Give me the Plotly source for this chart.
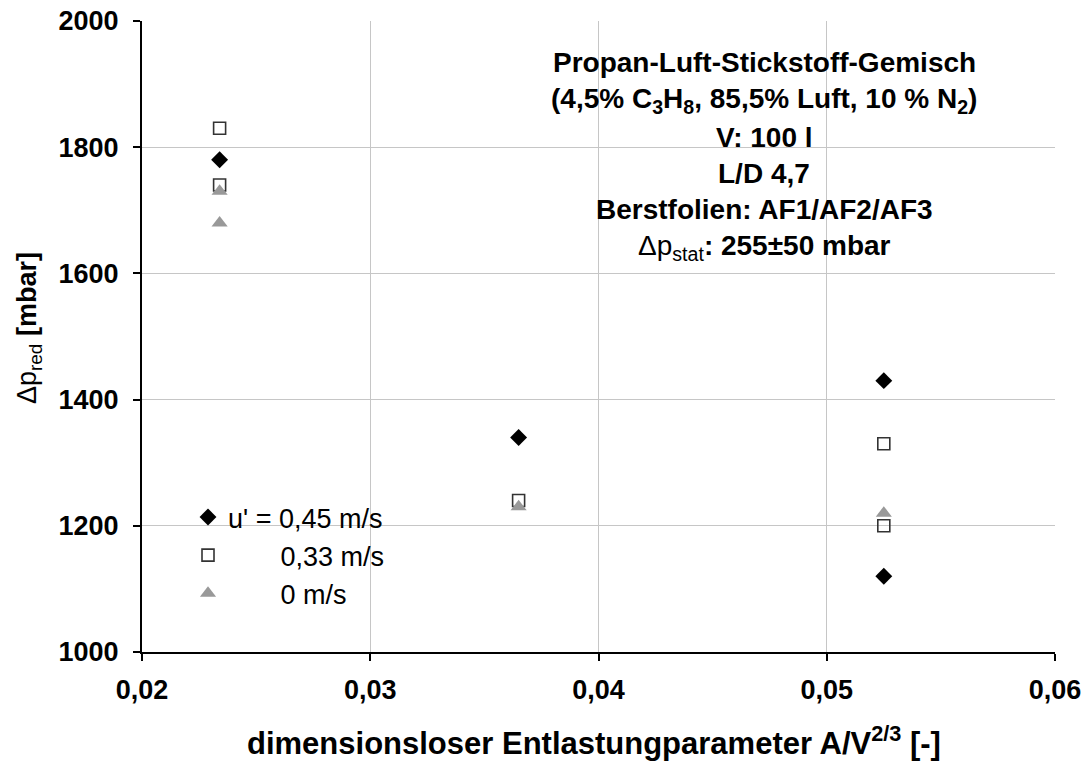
import plotly.graph_objects as go

# Entlastungsparameter A/V^(2/3) der drei Berstfolien
x_u045 = [0.0234, 0.0365, 0.0525, 0.0525]
y_u045 = [1780, 1340, 1430, 1120]

x_u033 = [0.0234, 0.0234, 0.0365, 0.0525, 0.0525]
y_u033 = [1830, 1740, 1240, 1330, 1200]

x_u000 = [0.0234, 0.0234, 0.0365, 0.0525]
y_u000 = [1730, 1680, 1230, 1220]

series_names = ["u' = 0,45 m/s", "\u00a0" * 7 + "0,33 m/s", "\u00a0" * 7 + "0 m/s"]

x_tickvals = [0.02, 0.03, 0.04, 0.05, 0.06]
x_ticktext = ["0,02", "0,03", "0,04", "0,05", "0,06"]
y_tickvals = [1000, 1200, 1400, 1600, 1800, 2000]
y_ticktext = ["1000", "1200", "1400", "1600", "1800", "2000"]

x_title = "<b>dimensionsloser Entlastungparameter A/V<sup>2/3</sup> [-]</b>"
y_title = "Δp<sub>red</sub> <b>[mbar]</b>"

info_lines = [
    "<b>Propan-Luft-Stickstoff-Gemisch</b>",
    "<b>(4,5% C<sub>3</sub>H<sub>8</sub>, 85,5% Luft, 10 % N<sub>2</sub>)</b>",
    "<b>V: 100 l</b>",
    "<b>L/D 4,7</b>",
    "<b>Berstfolien: AF1/AF2/AF3</b>",
    "Δp<sub>stat</sub><b>: 255±50 mbar</b>",
]

FONT = "Arial, 'Liberation Sans', sans-serif"

# plot-area geometry in pixels
L, R, T, B = 142, 1055, 21, 652
W, H = R - L, B - T


def px_x(px):
    return (px - L) / W


def px_y(py):
    return 1 - (py - T) / H


fig = go.Figure()
fig.add_trace(go.Scatter(
    x=x_u045, y=y_u045, mode="markers", name=series_names[0],
    marker=dict(symbol="diamond", size=13, color="black"),
))
fig.add_trace(go.Scatter(
    x=x_u033, y=y_u033, mode="markers", name=series_names[1],
    marker=dict(symbol="square-open", size=12, color="#333333",
                line=dict(width=1.6, color="#333333")),
))
fig.add_trace(go.Scatter(
    x=x_u000, y=y_u000, mode="markers", name=series_names[2],
    marker=dict(symbol="triangle-up", size=14, color="#999999"),
))

axis_common = dict(
    showline=True, linecolor="black", linewidth=2,
    ticks="outside", ticklen=7, tickwidth=2, tickcolor="black",
    showgrid=True, gridcolor="#c6c6c6", gridwidth=1,
    zeroline=False, automargin=False,
    tickfont=dict(family=FONT, size=27, color="black", weight="bold"),
)

fig.update_xaxes(range=[0.02, 0.06], tickvals=x_tickvals, ticktext=x_ticktext,
                 ticklabelstandoff=6, **axis_common)
fig.update_yaxes(range=[1000, 2000], tickvals=y_tickvals, ticktext=y_ticktext,
                 ticklabelstandoff=9, **axis_common)

# axis titles
fig.add_annotation(
    text=x_title, xref="paper", yref="paper",
    x=px_x(594), y=px_y(741), xanchor="center", yanchor="middle",
    showarrow=False, font=dict(family=FONT, size=31, color="black"),
)
fig.add_annotation(
    text=y_title, xref="paper", yref="paper", textangle=-90,
    x=px_x(29), y=px_y(328), xanchor="center", yanchor="middle",
    showarrow=False, font=dict(family=FONT, size=27, color="black"),
)

line_y = [62, 100, 137, 173, 210, 247]
for txt, yy in zip(info_lines, line_y):
    fig.add_annotation(
        text=txt, xref="paper", yref="paper",
        x=px_x(764), y=px_y(yy),
        xanchor="center", yanchor="middle", showarrow=False,
        font=dict(family=FONT, size=28, color="black"),
    )

fig.update_layout(
    width=1085, height=770,
    margin=dict(l=L, r=1085 - R, t=T, b=770 - B),
    paper_bgcolor="white", plot_bgcolor="white",
    showlegend=True,
    legend=dict(
        x=px_x(188), y=px_y(493),
        xanchor="left", yanchor="top",
        bgcolor="rgba(0,0,0,0)",
        font=dict(family=FONT, size=27, color="black"),
        itemwidth=30, tracegroupgap=0,
    ),
)

fig.write_html("out.html")
